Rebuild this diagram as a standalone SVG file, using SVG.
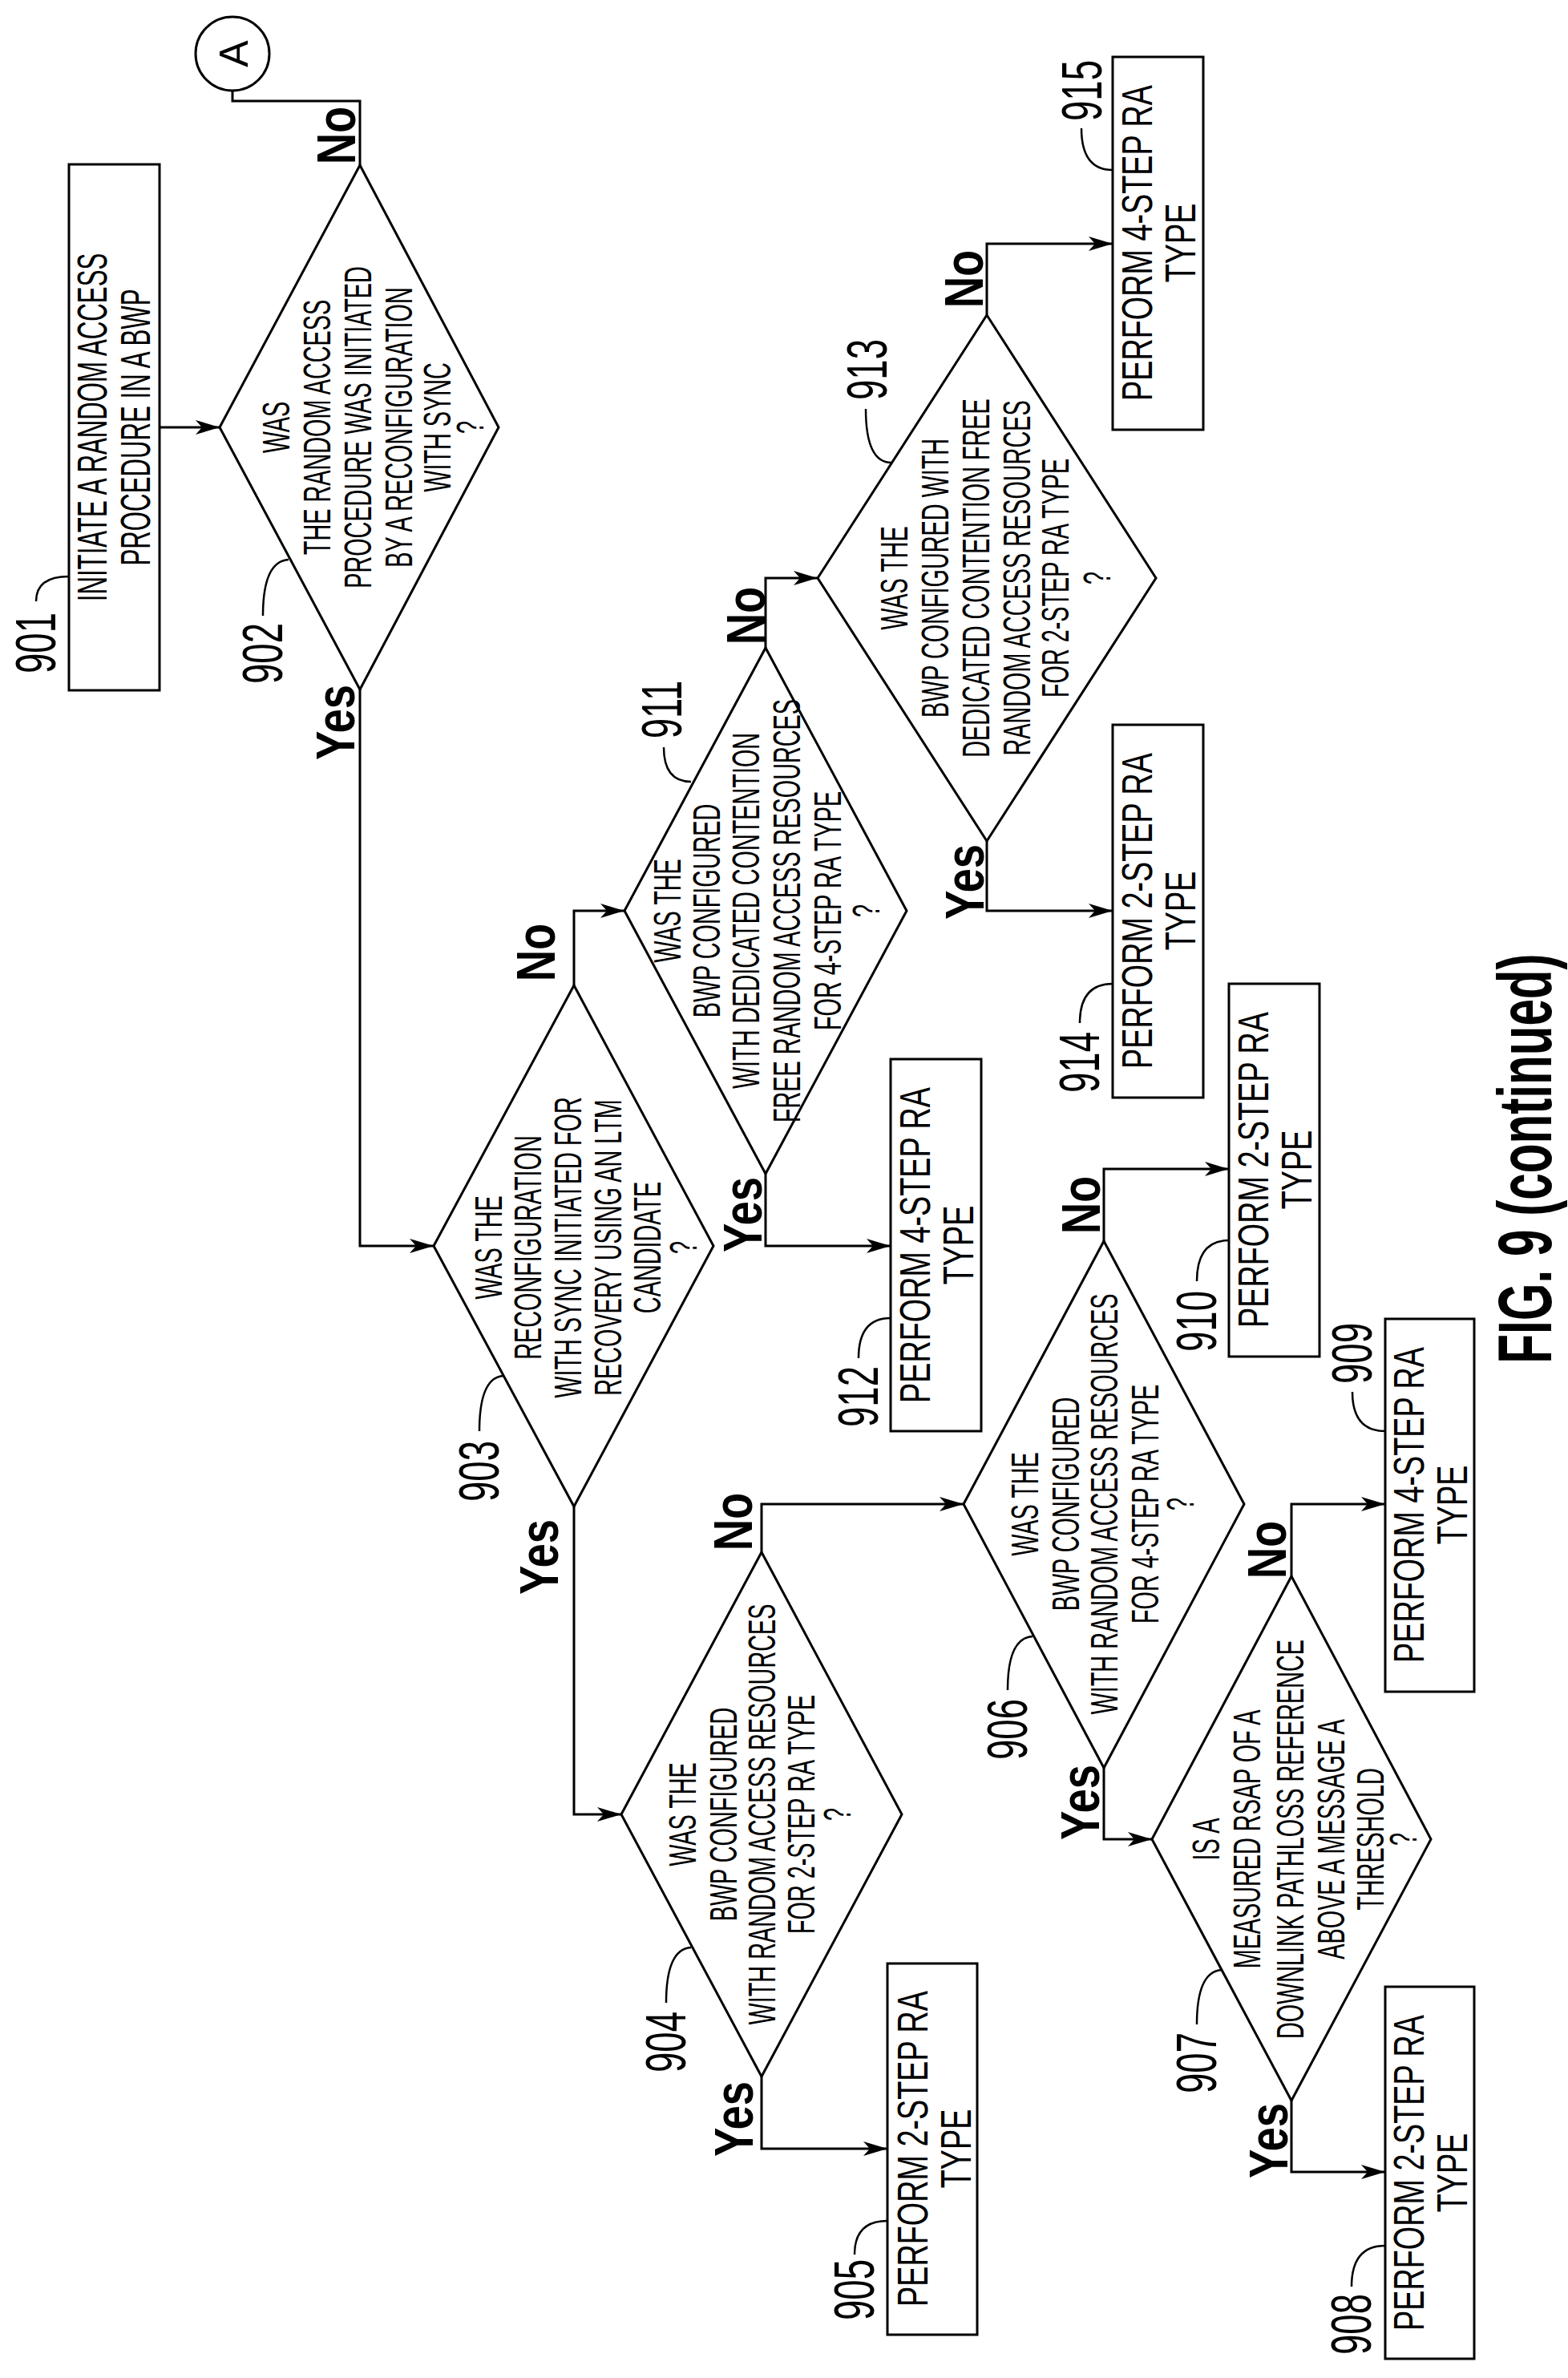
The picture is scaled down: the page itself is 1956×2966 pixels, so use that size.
<svg xmlns="http://www.w3.org/2000/svg" width="1956" height="2966" viewBox="0 0 1956 2966">
<style>
text{font-family:"Liberation Sans",Arial,sans-serif;fill:#000;text-anchor:middle;dominant-baseline:central}
.d{font-size:48px}.b1{font-size:52px}.p{font-size:54px}.n{font-size:70px}
.yn{font-size:68px;font-weight:bold}.fig{font-size:94px;font-weight:bold}
.s{fill:#fff;stroke:#000;stroke-width:3}
.c{fill:none;stroke:#000;stroke-width:3}
.l{fill:none;stroke:#000;stroke-width:2.5}
</style>
<defs>
<marker id="ar" markerWidth="32" markerHeight="20" refX="30" refY="10" orient="auto" markerUnits="userSpaceOnUse">
<path d="M0,1 L30,10 L0,19 L8,10 Z" fill="#000"/>
</marker>
</defs>
<rect width="1956" height="2966" fill="#fff"/>
<g id="connectors">
<path class="c" d="M290,113 V126 H449 V206"/>
<path class="c" d="M199,533 H274" marker-end="url(#ar)"/>
<path class="c" d="M449,860 V1554 H541" marker-end="url(#ar)"/>
<path class="c" d="M716,1229 V1136 H779" marker-end="url(#ar)"/>
<path class="c" d="M716,1879 V2263 H775" marker-end="url(#ar)"/>
<path class="c" d="M955,808 V721 H1020" marker-end="url(#ar)"/>
<path class="c" d="M955,1464 V1554 H1111" marker-end="url(#ar)"/>
<path class="c" d="M1231,393 V304 H1388" marker-end="url(#ar)"/>
<path class="c" d="M1231,1049 V1136 H1388" marker-end="url(#ar)"/>
<path class="c" d="M950,1936 V1876 H1202" marker-end="url(#ar)"/>
<path class="c" d="M950,2590 V2680 H1107" marker-end="url(#ar)"/>
<path class="c" d="M1377,1548 V1458 H1533" marker-end="url(#ar)"/>
<path class="c" d="M1377,2205 V2294 H1437" marker-end="url(#ar)"/>
<path class="c" d="M1611,1966 V1876 H1728" marker-end="url(#ar)"/>
<path class="c" d="M1611,2620 V2709 H1728" marker-end="url(#ar)"/>
<text class="yn" transform="translate(419,169) rotate(-90) scale(0.8,1)">No</text>
<text class="yn" transform="translate(418,901) rotate(-90) scale(0.8,1)">Yes</text>
<text class="yn" transform="translate(668,1188) rotate(-90) scale(0.8,1)">No</text>
<text class="yn" transform="translate(672,1942) rotate(-90) scale(0.8,1)">Yes</text>
<text class="yn" transform="translate(930,768) rotate(-90) scale(0.8,1)">No</text>
<text class="yn" transform="translate(926,1515) rotate(-90) scale(0.8,1)">Yes</text>
<text class="yn" transform="translate(1202,348) rotate(-90) scale(0.8,1)">No</text>
<text class="yn" transform="translate(1203,1100) rotate(-90) scale(0.8,1)">Yes</text>
<text class="yn" transform="translate(914,1898) rotate(-90) scale(0.8,1)">No</text>
<text class="yn" transform="translate(915,2643) rotate(-90) scale(0.8,1)">Yes</text>
<text class="yn" transform="translate(1348,1503) rotate(-90) scale(0.8,1)">No</text>
<text class="yn" transform="translate(1347,2248) rotate(-90) scale(0.8,1)">Yes</text>
<text class="yn" transform="translate(1580,1933) rotate(-90) scale(0.8,1)">No</text>
<text class="yn" transform="translate(1582,2670) rotate(-90) scale(0.8,1)">Yes</text>
</g>
<g id="A"><circle class="s" cx="290" cy="67" r="46"/><text style="font-size:50px" transform="translate(292,67) rotate(-90)">A</text></g>
<g id="n901">
<rect class="s" x="86" y="205" width="113" height="656"/>
<text class="b1" transform="translate(115,533) rotate(-90) scale(0.6,1)">INITIATE A RANDOM ACCESS</text>
<text class="b1" transform="translate(169,533) rotate(-90) scale(0.6,1)">PROCEDURE IN A BWP</text>
<text class="n" transform="translate(45,802) rotate(-90) scale(0.65,1)">901</text>
<path class="l" d="M45,750 Q45,719 86,719"/>
</g>
<g id="n902">
<polygon class="s" points="274,533 449,206 622,533 449,860"/>
<text class="d" transform="translate(344,533) rotate(-90) scale(0.6,1)">WAS</text>
<text class="d" transform="translate(395,533) rotate(-90) scale(0.6,1)">THE RANDOM ACCESS</text>
<text class="d" transform="translate(446,533) rotate(-90) scale(0.6,1)">PROCEDURE WAS INITIATED</text>
<text class="d" transform="translate(497,533) rotate(-90) scale(0.6,1)">BY A RECONFIGURATION</text>
<text class="d" transform="translate(545,533) rotate(-90) scale(0.6,1)">WITH SYNC</text>
<text class="d" transform="translate(586,533) rotate(-90) scale(0.6,1)">?</text>
<text class="n" transform="translate(328,815) rotate(-90) scale(0.65,1)">902</text>
<path class="l" d="M328,768 Q328,700 360,698"/>
</g>
<g id="n903">
<polygon class="s" points="541,1554 716,1229 890,1554 716,1879"/>
<text class="d" transform="translate(609,1556) rotate(-90) scale(0.6,1)">WAS THE</text>
<text class="d" transform="translate(658,1556) rotate(-90) scale(0.6,1)">RECONFIGURATION</text>
<text class="d" transform="translate(708,1556) rotate(-90) scale(0.6,1)">WITH SYNC INITIATED FOR</text>
<text class="d" transform="translate(758,1556) rotate(-90) scale(0.6,1)">RECOVERY USING AN LTM</text>
<text class="d" transform="translate(807,1556) rotate(-90) scale(0.6,1)">CANDIDATE</text>
<text class="d" transform="translate(852,1556) rotate(-90) scale(0.6,1)">?</text>
<text class="n" transform="translate(598,1835) rotate(-90) scale(0.65,1)">903</text>
<path class="l" d="M598,1785 Q598,1718 628,1716"/>
</g>
<g id="n904">
<polygon class="s" points="775,2263 950,1936 1125,2263 950,2590"/>
<text class="d" transform="translate(851,2263) rotate(-90) scale(0.6,1)">WAS THE</text>
<text class="d" transform="translate(902,2263) rotate(-90) scale(0.6,1)">BWP CONFIGURED</text>
<text class="d" transform="translate(950,2263) rotate(-90) scale(0.6,1)">WITH RANDOM ACCESS RESOURCES</text>
<text class="d" transform="translate(999,2263) rotate(-90) scale(0.6,1)">FOR 2-STEP RA TYPE</text>
<text class="d" transform="translate(1044,2263) rotate(-90) scale(0.6,1)">?</text>
<text class="n" transform="translate(831,2547) rotate(-90) scale(0.65,1)">904</text>
<path class="l" d="M831,2498 Q831,2431 862,2429"/>
</g>
<g id="n905">
<rect class="s" x="1107" y="2449" width="112" height="463"/>
<text class="p" transform="translate(1138,2680) rotate(-90) scale(0.7,1)">PERFORM 2-STEP RA</text>
<text class="p" transform="translate(1192,2680) rotate(-90) scale(0.7,1)">TYPE</text>
<text class="n" transform="translate(1066,2856) rotate(-90) scale(0.65,1)">905</text>
<path class="l" d="M1066,2812 Q1066,2770 1107,2770"/>
</g>
<g id="n906">
<polygon class="s" points="1202,1876 1377,1548 1552,1876 1377,2205"/>
<text class="d" transform="translate(1278,1876) rotate(-90) scale(0.6,1)">WAS THE</text>
<text class="d" transform="translate(1329,1876) rotate(-90) scale(0.6,1)">BWP CONFIGURED</text>
<text class="d" transform="translate(1377,1876) rotate(-90) scale(0.6,1)">WITH RANDOM ACCESS RESOURCES</text>
<text class="d" transform="translate(1428,1876) rotate(-90) scale(0.6,1)">FOR 4-STEP RA TYPE</text>
<text class="d" transform="translate(1472,1876) rotate(-90) scale(0.6,1)">?</text>
<text class="n" transform="translate(1257,2157) rotate(-90) scale(0.65,1)">906</text>
<path class="l" d="M1257,2108 Q1257,2043 1288,2041"/>
</g>
<g id="n907">
<polygon class="s" points="1437,2294 1611,1966 1785,2294 1611,2620"/>
<text class="d" transform="translate(1504,2294) rotate(-90) scale(0.6,1)">IS A</text>
<text class="d" transform="translate(1555,2294) rotate(-90) scale(0.6,1)">MEASURED RSAP OF A</text>
<text class="d" transform="translate(1609,2294) rotate(-90) scale(0.6,1)">DOWNLINK PATHLOSS REFERENCE</text>
<text class="d" transform="translate(1660,2294) rotate(-90) scale(0.6,1)">ABOVE A MESSAGE A</text>
<text class="d" transform="translate(1709,2294) rotate(-90) scale(0.6,1)">THRESHOLD</text>
<text class="d" transform="translate(1750,2294) rotate(-90) scale(0.6,1)">?</text>
<text class="n" transform="translate(1493,2573) rotate(-90) scale(0.65,1)">907</text>
<path class="l" d="M1493,2525 Q1493,2459 1524,2457"/>
</g>
<g id="n908">
<rect class="s" x="1728" y="2478" width="111" height="464"/>
<text class="p" transform="translate(1757,2710) rotate(-90) scale(0.7,1)">PERFORM 2-STEP RA</text>
<text class="p" transform="translate(1811,2710) rotate(-90) scale(0.7,1)">TYPE</text>
<text class="n" transform="translate(1686,2899) rotate(-90) scale(0.65,1)">908</text>
<path class="l" d="M1686,2852 Q1686,2801 1728,2801"/>
</g>
<g id="n909">
<rect class="s" x="1728" y="1645" width="111" height="465"/>
<text class="p" transform="translate(1757,1877) rotate(-90) scale(0.7,1)">PERFORM 4-STEP RA</text>
<text class="p" transform="translate(1811,1877) rotate(-90) scale(0.7,1)">TYPE</text>
<text class="n" transform="translate(1687,1688) rotate(-90) scale(0.65,1)">909</text>
<path class="l" d="M1687,1736 Q1687,1785 1728,1785"/>
</g>
<g id="n910">
<rect class="s" x="1533" y="1227" width="113" height="465"/>
<text class="p" transform="translate(1563,1459) rotate(-90) scale(0.7,1)">PERFORM 2-STEP RA</text>
<text class="p" transform="translate(1617,1459) rotate(-90) scale(0.7,1)">TYPE</text>
<text class="n" transform="translate(1493,1648) rotate(-90) scale(0.65,1)">910</text>
<path class="l" d="M1493,1598 Q1493,1547 1533,1547"/>
</g>
<g id="n911">
<polygon class="s" points="779,1136 955,808 1131,1136 955,1464"/>
<text class="d" transform="translate(832,1136) rotate(-90) scale(0.6,1)">WAS THE</text>
<text class="d" transform="translate(881,1136) rotate(-90) scale(0.6,1)">BWP CONFIGURED</text>
<text class="d" transform="translate(930,1136) rotate(-90) scale(0.6,1)">WITH DEDICATED CONTENTION</text>
<text class="d" transform="translate(981,1136) rotate(-90) scale(0.6,1)">FREE RANDOM ACCESS RESOURCES</text>
<text class="d" transform="translate(1032,1136) rotate(-90) scale(0.6,1)">FOR 4-STEP RA TYPE</text>
<text class="d" transform="translate(1080,1136) rotate(-90) scale(0.6,1)">?</text>
<text class="n" transform="translate(826,885) rotate(-90) scale(0.65,1)">911</text>
<path class="l" d="M828,932 Q828,975 862,975"/>
</g>
<g id="n912">
<rect class="s" x="1111" y="1321" width="113" height="464"/>
<text class="p" transform="translate(1141,1553) rotate(-90) scale(0.7,1)">PERFORM 4-STEP RA</text>
<text class="p" transform="translate(1195,1553) rotate(-90) scale(0.7,1)">TYPE</text>
<text class="n" transform="translate(1071,1742) rotate(-90) scale(0.65,1)">912</text>
<path class="l" d="M1071,1694 Q1071,1644 1111,1644"/>
</g>
<g id="n913">
<polygon class="s" points="1020,721 1231,393 1442,721 1231,1049"/>
<text class="d" transform="translate(1115,721) rotate(-90) scale(0.6,1)">WAS THE</text>
<text class="d" transform="translate(1166,721) rotate(-90) scale(0.6,1)">BWP CONFIGURED WITH</text>
<text class="d" transform="translate(1217,721) rotate(-90) scale(0.6,1)">DEDICATED CONTENTION FREE</text>
<text class="d" transform="translate(1268,721) rotate(-90) scale(0.6,1)">RANDOM ACCESS RESOURCES</text>
<text class="d" transform="translate(1316,721) rotate(-90) scale(0.6,1)">FOR 2-STEP RA TYPE</text>
<text class="d" transform="translate(1368,721) rotate(-90) scale(0.6,1)">?</text>
<text class="n" transform="translate(1082,461) rotate(-90) scale(0.65,1)">913</text>
<path class="l" d="M1080,510 Q1080,577 1112,577"/>
</g>
<g id="n914">
<rect class="s" x="1388" y="904" width="113" height="465"/>
<text class="p" transform="translate(1418,1136) rotate(-90) scale(0.7,1)">PERFORM 2-STEP RA</text>
<text class="p" transform="translate(1472,1136) rotate(-90) scale(0.7,1)">TYPE</text>
<text class="n" transform="translate(1347,1325) rotate(-90) scale(0.65,1)">914</text>
<path class="l" d="M1347,1276 Q1347,1227 1388,1227"/>
</g>
<g id="n915">
<rect class="s" x="1388" y="71" width="113" height="465"/>
<text class="p" transform="translate(1418,303) rotate(-90) scale(0.7,1)">PERFORM 4-STEP RA</text>
<text class="p" transform="translate(1472,303) rotate(-90) scale(0.7,1)">TYPE</text>
<text class="n" transform="translate(1350,113) rotate(-90) scale(0.65,1)">915</text>
<path class="l" d="M1349,160 Q1349,212 1388,212"/>
</g>
<text class="fig" transform="translate(1903,1445) rotate(-90) scale(0.64,1)">FIG. 9 (continued)</text>
</svg>
